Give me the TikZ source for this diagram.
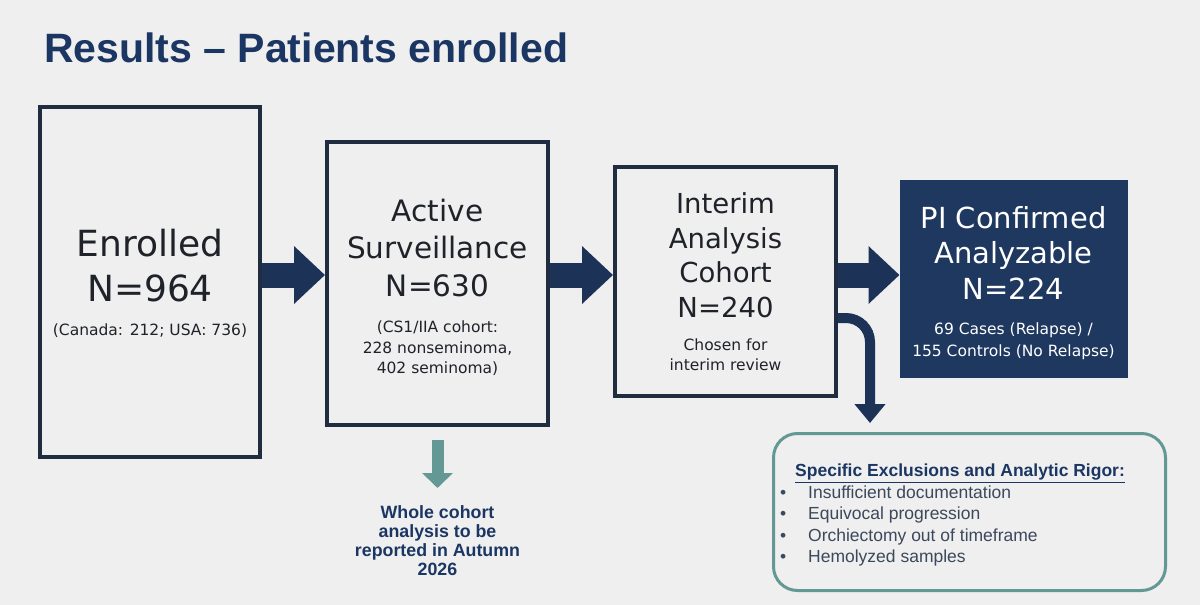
\documentclass[tikz,border=0pt]{standalone}
\usepackage{fontspec}
\setmainfont{Liberation Sans}
\newfontfamily\boxfont{DejaVu Sans}
\usetikzlibrary{arrows.meta}

\definecolor{bgcol}{RGB}{238,239,238}
\definecolor{titlecol}{RGB}{28,54,100}
\definecolor{boxline}{RGB}{32,44,64}
\definecolor{boxtext}{RGB}{32,34,42}
\definecolor{arrowcol}{RGB}{28,50,86}
\definecolor{finalfill}{RGB}{30,56,96}
\definecolor{tealcol}{RGB}{100,152,148}
\definecolor{itemcol}{RGB}{60,72,92}

\newcommand\subtxt{\fontsize{15.5}{18}\selectfont}

\begin{document}
\begin{tikzpicture}[x=1pt,y=-1pt,
  stagebox/.style={draw=boxline,line width=4pt,text=boxtext,align=center,inner sep=0pt},
  flowarrow/.style={draw=arrowcol,line width=25pt,-{Triangle[length=31pt,width=56pt]}},
  exitarrow/.style={draw=arrowcol,line width=10pt,rounded corners=24pt,-{Triangle[length=19pt,width=30pt]}},
  tealarrow/.style={draw=tealcol,line width=12pt,-{Triangle[length=15pt,width=30pt]}}]
\path[use as bounding box,fill=bgcol] (0,0) rectangle (1200,605);
\node[inner sep=0pt,anchor=base west,text=titlecol,font=\bfseries\fontsize{41}{48}\selectfont] (title) at (44,62) {Results -- Patients enrolled};
% the four stages
\node[stagebox,minimum width=220pt,minimum height=350pt,font=\boxfont\fontsize{36}{45}\selectfont] (enrolled) at (150,282) {\rule{0pt}{31pt}Enrolled\\N=964\\[-11pt]\subtxt (Canada: 212; USA: 736)};
\node[stagebox,minimum width=221pt,minimum height=283pt,font=\boxfont\fontsize{29.5}{37.5}\selectfont] (surv) at (437.5,283.5) {\rule{0pt}{30.5pt}Active\\Surveillance\\N=630\\[-1pt]\subtxt (CS1/IIA cohort:\\[-17pt]\subtxt 228 nonseminoma,\\[-17pt]\subtxt 402 seminoma)};
\node[stagebox,minimum width=221pt,minimum height=229pt,font=\boxfont\fontsize{27.5}{34.5}\selectfont] (cohort) at (725.5,281.5) {Interim\\Analysis\\Cohort\\N=240\\[-1.5pt]\subtxt Chosen for\\[-14.5pt]\subtxt interim review};
\node[stagebox,draw=finalfill,line width=1pt,fill=finalfill,text=white,minimum width=227pt,minimum height=197pt,font=\boxfont\fontsize{29}{35.5}\selectfont] (final) at (1013.5,278.5) {\rule{0pt}{31pt}PI Confirmed\\Analyzable\\N=224\\[-0.5pt]\subtxt 69 Cases (Relapse) /\\[-13.5pt]\subtxt 155 Controls (No Relapse)};
% exclusions
\node[draw=tealcol,line width=3pt,rounded corners=24pt,minimum width=392pt,minimum height=157pt,inner sep=0pt] (excl) at (969.5,512) {};
\node[inner sep=0pt,anchor=north west,align=left,font=\fontsize{17.5}{21.5}\selectfont] (excltext) at (780,464) {\hspace*{15pt}\color{titlecol}\underline{\textbf{Specific Exclusions and Analytic Rigor:}}\\
\color{itemcol}\makebox[28pt][l]{•}Insufficient documentation\\
\color{itemcol}\makebox[28pt][l]{•}Equivocal progression\\
\color{itemcol}\makebox[28pt][l]{•}Orchiectomy out of timeframe\\
\color{itemcol}\makebox[28pt][l]{•}Hemolyzed samples};
\node[inner sep=0pt,anchor=north,align=center,text=titlecol,font=\bfseries\fontsize{17.8}{19}\selectfont] (whole) at (437.5,505) {Whole cohort\\analysis to be\\reported in Autumn\\2026};
% connectors
\coordinate (arow) at (0,275);
\coordinate (exitrow) at (0,318);
\coordinate (exctip) at (870,423);
\draw[flowarrow] (enrolled.east |- arow) -- (surv.west |- arow);
\draw[flowarrow] (surv.east |- arow) -- (cohort.west |- arow);
\draw[flowarrow] (cohort.east |- arow) -- (final.west |- arow);
\draw[exitarrow] (cohort.east |- exitrow) -| (exctip);
\draw[tealarrow] ([yshift=-13pt]surv.south) -- ([yshift=17pt]whole.north);
\end{tikzpicture}
\end{document}
